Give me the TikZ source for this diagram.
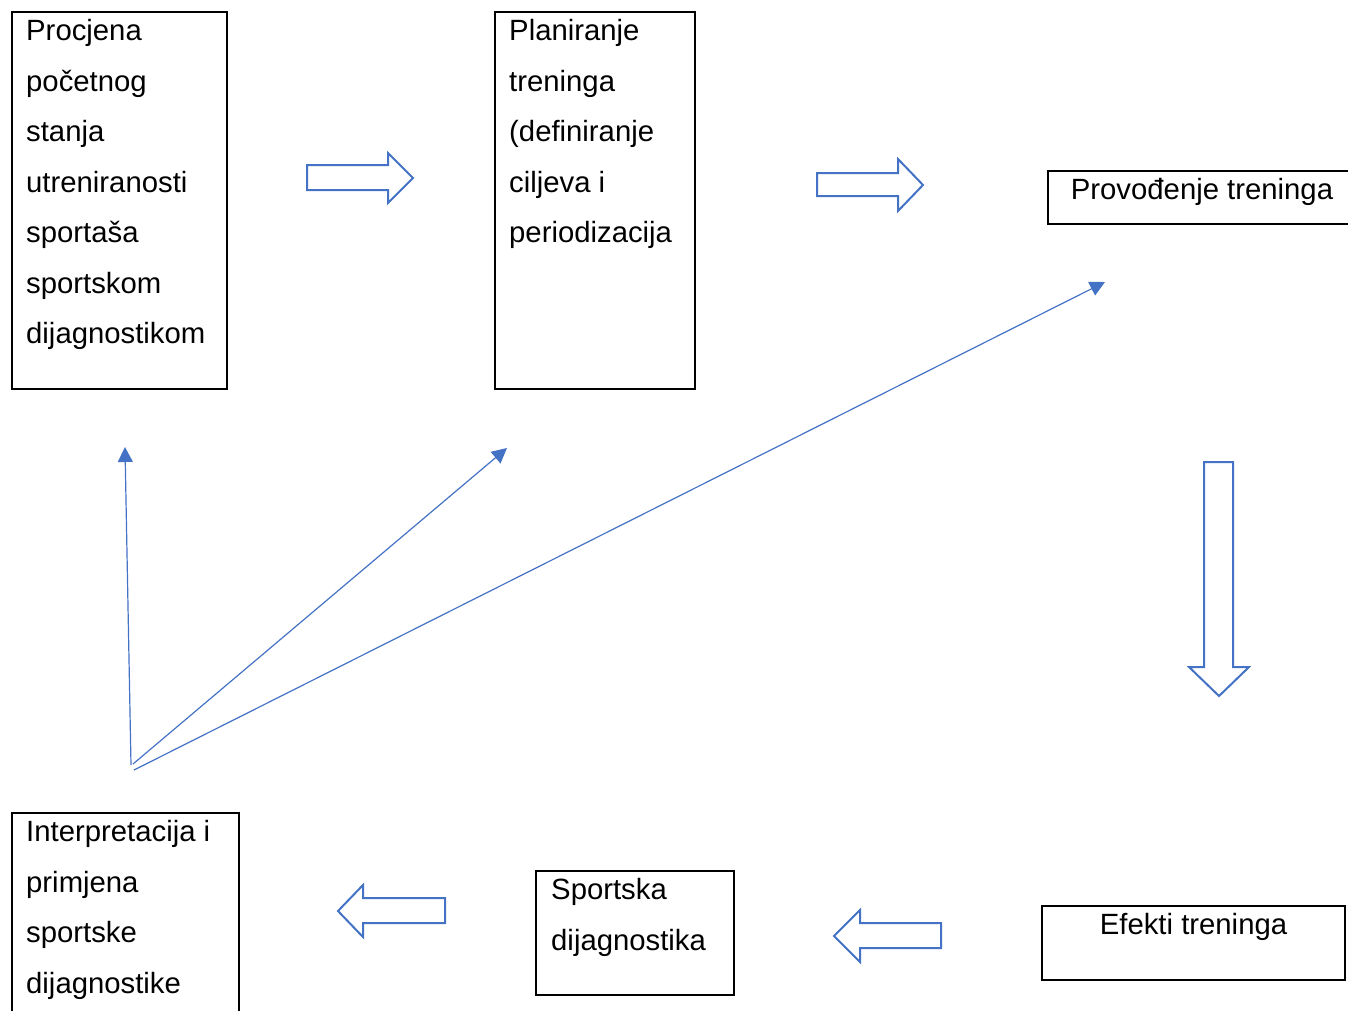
\documentclass[tikz,border=0pt]{standalone}
\usepackage{fontspec}
\setmainfont{Liberation Sans}
\usepackage{xcolor}
\usepackage{tikz}
\usetikzlibrary{arrows.meta}

\definecolor{officeblue}{HTML}{4472C4}

\begin{document}
\begin{tikzpicture}[x=1pt, y=-1pt,
		box/.style = {draw, line width = 1.8pt, anchor = north west, inner sep = 0, outer sep = 0},
		boxtext/.style = {anchor = north west, inner sep = 0, align = left, font = \fontsize{29.3}{50.5}\selectfont},
		onetext/.style = {anchor = base, inner sep = 0, font = \fontsize{29.3}{50.5}\selectfont},
		blockarrow/.style = {draw = officeblue, line width = 2pt, fill = white, line join = miter},
		thinarrow/.style = {officeblue, line width = 1.2pt, -{Triangle[length = 15pt, width = 15pt]}}]
		%variables
		\def\drop{28.5};
		\def\strt{\rule{0pt}{22pt}};

		%frame
		\clip (0,0) rectangle (1348,1010);

		%boxes
		\node [box, minimum width = 215, minimum height = 377] (procjena) at (12,12) {};
		\node [box, minimum width = 200, minimum height = 377] (planiranje) at (495,12) {};
		\node [box, minimum width = 308, minimum height = 53] (provodenje) at (1048,171) {};
		\node [box, minimum width = 303, minimum height = 74] (efekti) at (1042,906) {};
		\node [box, minimum width = 198, minimum height = 124] (sportska) at (536,871) {};
		\node [box, minimum width = 227, minimum height = 230] (interpretacija) at (12,813) {};

		%texts
		\node [boxtext] (procjena-t) at (26, {12 + \drop - 22}) {\strt Procjena\\početnog\\stanja\\utreniranosti\\sportaša\\sportskom\\dijagnostikom};
		\node [boxtext] (planiranje-t) at (509, {12 + \drop - 22}) {\strt Planiranje\\treninga\\(definiranje\\ciljeva i\\periodizacija};
		\node [onetext] (provodenje-t) at (1202, {171 + \drop}) {Provođenje treninga};
		\node [onetext] (efekti-t) at (1193.5, {906 + \drop}) {Efekti treninga};
		\node [boxtext] (sportska-t) at (551, {871 + \drop - 22}) {\strt Sportska\\dijagnostika};
		\node [boxtext] (interpretacija-t) at (26, {813 + \drop - 22}) {\strt Interpretacija i\\primjena\\sportske\\dijagnostike};

		%block arrows
		\draw [blockarrow] (307,165) -- (388,165) -- (388,153) -- (413,178) -- (388,203) -- (388,190) -- (307,190) -- cycle;
		\draw [blockarrow] (817,173) -- (898,173) -- (898,159) -- (923,185) -- (898,211) -- (898,196) -- (817,196) -- cycle;
		\draw [blockarrow] (1204,462) -- (1233,462) -- (1233,667) -- (1249,667) -- (1219,696) -- (1189,667) -- (1204,667) -- cycle;
		\draw [blockarrow] (445,898) -- (363,898) -- (363,885) -- (338,911) -- (363,937) -- (363,923) -- (445,923) -- cycle;
		\draw [blockarrow] (941,923) -- (860,923) -- (860,910) -- (834,936) -- (860,962) -- (860,948) -- (941,948) -- cycle;

		%feedback lines
		\coordinate (fanA) at (131,765);
		\coordinate (fanB) at (133,764);
		\coordinate (fanC) at (134,770);
		\coordinate (tipA) at (125,447);
		\coordinate (tipB) at (507,448);
		\coordinate (tipC) at (1105,282);

		\draw [thinarrow] (fanA) -- (tipA);
		\draw [thinarrow] (fanB) -- (tipB);
		\draw [thinarrow] (fanC) -- (tipC);
	\end{tikzpicture}
\end{document}
